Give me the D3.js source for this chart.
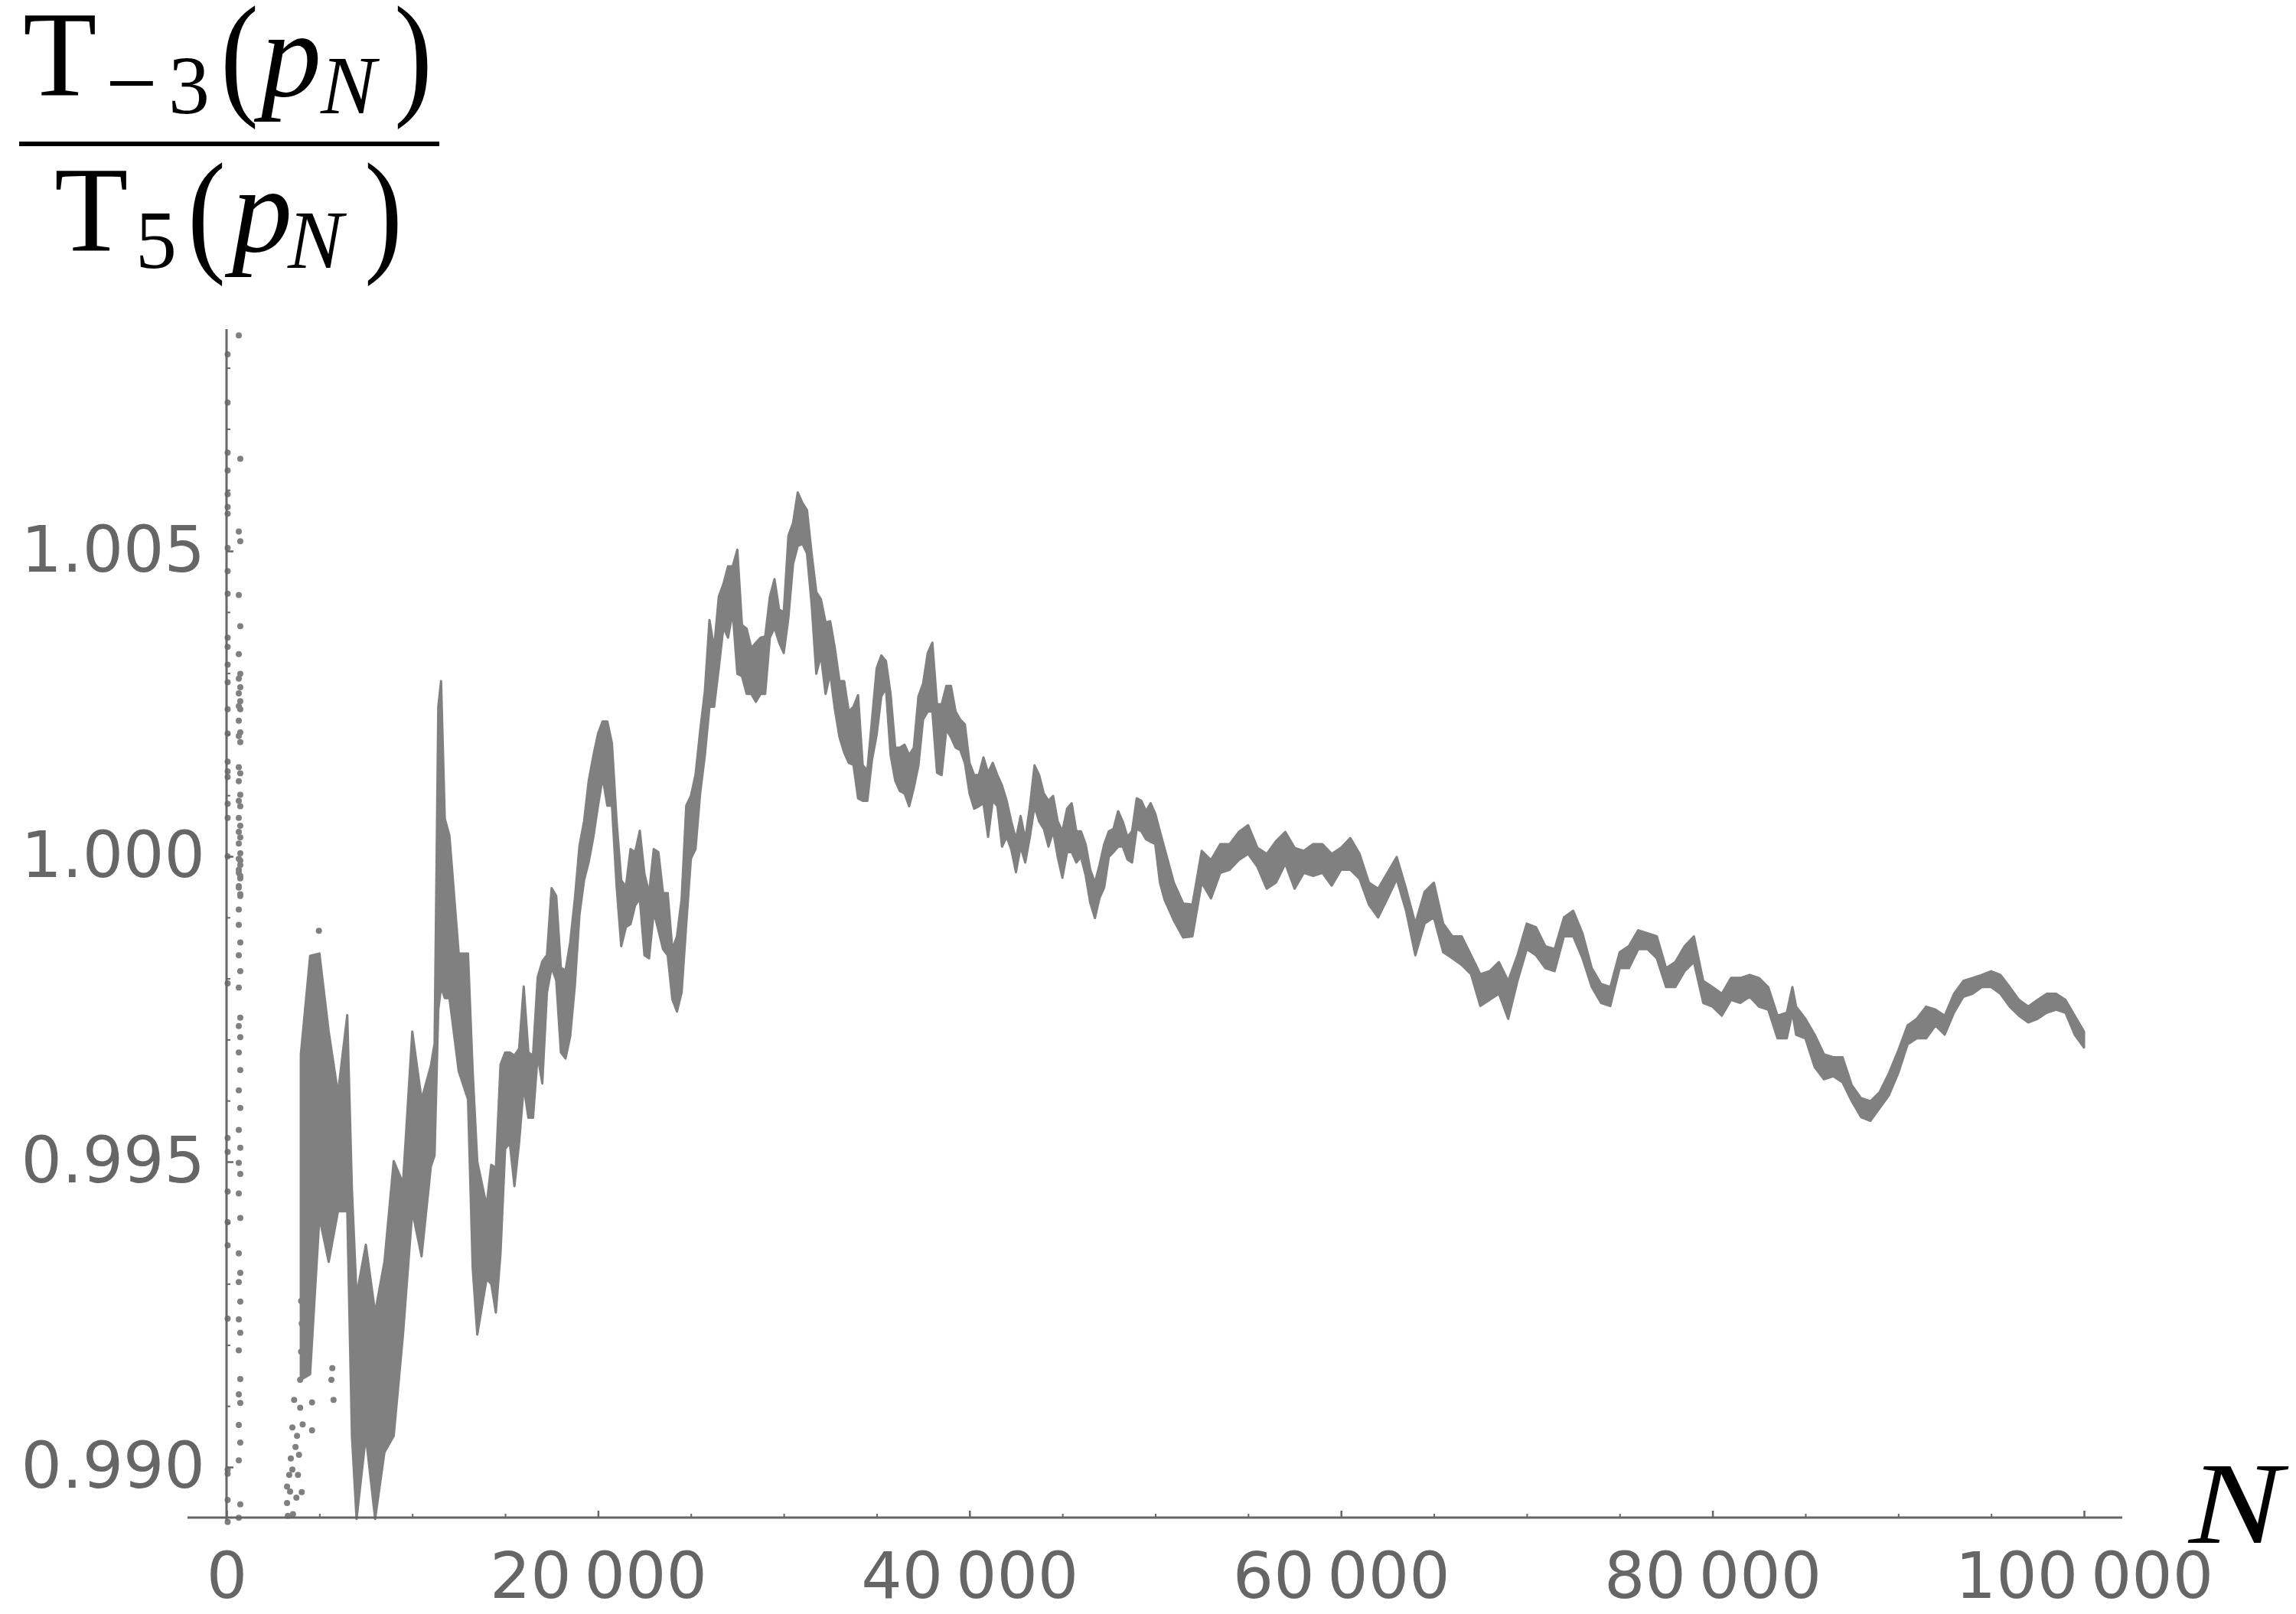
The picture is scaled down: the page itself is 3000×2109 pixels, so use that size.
<!DOCTYPE html>
<html>
<head>
<meta charset="utf-8">
<script src="https://cdn.jsdelivr.net/npm/d3@7"></script>
<style>
  body { margin: 0; background: #fff; }
  .tick text { font-family: "DejaVu Sans", sans-serif; font-size: 84px; fill: #666; }
  .math { font-family: "Liberation Serif", serif; fill: #000; }
</style>
</head>
<body>
<div class="chart"></div>
<script>
const bandN = [
  4000, 4500, 5000, 5500, 6000, 6500, 6750, 7000, 7500, 8000,
  8500, 9000, 9500, 10000, 10500, 11000, 11200, 11400, 11550, 11750,
  12000, 12500, 13000, 13250, 13500, 14000,
  14250, 14500, 14750, 15000, 15250, 15500, 15750, 16000, 16250, 16500,
  16750, 17000, 17250, 17500, 17750, 18000, 18250, 18500, 18750, 19000,
  19250, 19500, 19750, 20000, 20250, 20500, 20750, 21000, 21250, 21500,
  21750, 22000, 22250, 22500, 22750, 23000, 23250, 23500, 23750, 24000,
  24250, 24500, 24750, 25000, 25250, 25500, 25750,
  26000, 26250, 26500, 26750, 27000, 27250, 27500, 27750, 28000, 28250,
  28500, 28750, 29000, 29250, 29500, 29750, 30000, 30250, 30500, 30750,
  31000, 31250, 31500, 31750, 32000, 32250, 32500, 32750, 33000, 33250,
  33500, 33750,
  34000, 34250, 34500, 34750, 35000, 35250, 35500, 35750, 36000, 36250,
  36500, 36750, 37000, 37250, 37500, 37750, 38000, 38250, 38500, 38750,
  39000, 39250, 39500, 39750, 40000, 40250, 40500, 40750, 41000, 41250,
  41500, 41750, 42000, 42250, 42500, 42750, 43000, 43250, 43500, 43750,
  44000, 44250, 44500, 44750, 45000, 45250, 45500, 45750, 46000, 46250,
  46500, 46750, 47000, 47250, 47500, 47750, 48000, 48250, 48500, 48750,
  49000, 49250, 49500, 49750, 50000, 50250,
  50500, 51000, 51500,
  52000, 52500, 53000, 53500, 54000, 54500, 55000, 55500, 56000, 56500,
  57000, 57500, 58000, 58500, 59000, 59500, 60000, 60500, 61000, 61500,
  62000, 62500, 63000, 63500, 64000, 64500, 65000, 65500, 66000, 66500,
  67000, 67500, 68000, 68500, 69000, 69500, 70000, 70500, 71000, 71500,
  72000, 72500, 73000, 73500, 74000, 74500, 75000, 75500, 76000, 76500,
  77000, 77500,
  78000, 78500, 79000, 79500, 80000, 80500, 81000, 81500, 82000, 82500,
  83000, 83500, 84000, 84300, 84500, 85000, 85500, 86000, 86500, 87000,
  87500, 88000, 88500, 89000, 89500, 90000, 90500, 91000, 91500, 92000,
  92500, 93000, 93500, 94000, 94500, 95000, 95500, 96000, 96500, 97000,
  97500, 98000, 98500, 99000, 99500, 100000
];
const bandHi = [
  0.99676, 0.99837, 0.99841, 0.99713, 0.99612, 0.99740, 0.99455, 0.99281, 0.99364, 0.99253,
  0.99336, 0.99501, 0.99465, 0.99713, 0.99602, 0.99657, 0.99694, 1.00245, 1.00287, 1.00062,
  1.00034, 0.99841, 0.99841, 0.99649, 0.99500, 0.99428,
  0.99495, 0.99490, 0.99659, 0.99679, 0.99679, 0.99674, 0.99685, 0.99787, 0.99679, 0.99674,
  0.99802, 0.99828, 0.99838, 0.99948, 0.99935, 0.99818, 0.99813, 0.99859, 0.99930, 1.00017,
  1.00058, 1.00124, 1.00165, 1.00201, 1.00221, 1.00221, 1.00185, 1.00058, 0.99961, 0.99950,
  1.00012, 1.00007, 1.00042, 0.99971, 0.99940, 1.00012, 1.00007, 0.99940, 0.99940, 0.99848,
  0.99869, 0.99930, 1.00083, 1.00099, 1.00134, 1.00206, 1.00270,
  1.00387, 1.00341, 1.00425, 1.00446, 1.00475, 1.00475, 1.00502, 1.00379, 1.00373, 1.00341,
  1.00350, 1.00358, 1.00360, 1.00425, 1.00454, 1.00404, 1.00400, 1.00525, 1.00546, 1.00596,
  1.00579, 1.00567, 1.00496, 1.00433, 1.00421, 1.00383, 1.00385, 1.00341, 1.00287, 1.00287,
  1.00237, 1.00245,
  1.00264, 1.00149, 1.00141, 1.00224, 1.00308, 1.00329, 1.00320, 1.00266, 1.00178, 1.00178,
  1.00183, 1.00166, 1.00178, 1.00262, 1.00283, 1.00333, 1.00350, 1.00249, 1.00249, 1.00279,
  1.00279, 1.00237, 1.00224, 1.00216, 1.00153, 1.00133, 1.00133, 1.00162, 1.00137, 1.00153,
  1.00133, 1.00116, 1.00091, 1.00057, 1.00028, 1.00066, 1.00028, 1.00082, 1.00149, 1.00133,
  1.00103, 1.00091, 1.00099, 1.00057, 1.00041, 1.00078, 1.00087, 1.00041, 1.00041, 1.00020,
  0.99978, 0.99957, 0.99986, 1.00020, 1.00041, 1.00045, 1.00074, 1.00057, 1.00032, 1.00041,
  1.00095, 1.00091, 1.00074, 1.00087, 1.00070, 1.00041,
  1.00013, 0.99957, 0.99923,
  0.99921, 1.00009, 0.99994, 1.00020, 1.00020, 1.00040, 1.00051, 1.00014, 1.00004, 1.00025,
  1.00040, 1.00014, 1.00009, 1.00020, 1.00020, 1.00004, 1.00014, 1.00030, 1.00004, 0.99957,
  0.99947, 0.99973, 0.99999, 0.99947, 0.99890, 0.99942, 0.99957, 0.99890, 0.99869, 0.99869,
  0.99838, 0.99807, 0.99812, 0.99827, 0.99796, 0.99838, 0.99890, 0.99884, 0.99853, 0.99848,
  0.99900, 0.99911, 0.99874, 0.99817, 0.99791, 0.99786, 0.99843, 0.99853, 0.99879, 0.99874,
  0.99869, 0.99817,
  0.99827, 0.99853, 0.99869, 0.99796, 0.99786, 0.99775, 0.99801, 0.99801, 0.99806, 0.99801,
  0.99786, 0.99739, 0.99744, 0.99786, 0.99754, 0.99734, 0.99708, 0.99676, 0.99671, 0.99671,
  0.99625, 0.99604, 0.99599, 0.99614, 0.99645, 0.99682, 0.99723, 0.99734, 0.99754, 0.99749,
  0.99739, 0.99775, 0.99796, 0.99801, 0.99806, 0.99812, 0.99806, 0.99786, 0.99765, 0.99754,
  0.99765, 0.99775, 0.99775, 0.99765, 0.99739, 0.99713
];
const bandLo = [
  0.99143, 0.99152, 0.99409, 0.99336, 0.99419, 0.99419, 0.99051, 0.98915, 0.99051, 0.98915,
  0.99024, 0.99051, 0.99217, 0.99419, 0.99345, 0.99492, 0.99510, 0.99749, 0.99786, 0.99768,
  0.99768, 0.99648, 0.99602, 0.99327, 0.99217, 0.99308,
  0.99300, 0.99253, 0.99350, 0.99521, 0.99531, 0.99460, 0.99531, 0.99623, 0.99572, 0.99572,
  0.99674, 0.99628, 0.99777, 0.99818, 0.99797, 0.99679, 0.99669, 0.99705, 0.99787, 0.99904,
  0.99961, 0.99991, 1.00032, 1.00083, 1.00129, 1.00083, 1.00083, 0.99951, 0.99853, 0.99884,
  0.99889, 0.99920, 0.99930, 0.99838, 0.99833, 0.99909, 0.99879, 0.99848, 0.99838, 0.99766,
  0.99746, 0.99777, 0.99889, 0.99996, 1.00012, 1.00104, 1.00165,
  1.00245, 1.00245, 1.00308, 1.00375, 1.00358, 1.00400, 1.00299, 1.00295, 1.00266, 1.00266,
  1.00253, 1.00266, 1.00266, 1.00358, 1.00375, 1.00350, 1.00333, 1.00391, 1.00479, 1.00508,
  1.00512, 1.00496, 1.00412, 1.00299, 1.00329, 1.00266, 1.00299, 1.00241, 1.00195, 1.00170,
  1.00153, 1.00150,
  1.00095, 1.00091, 1.00091, 1.00158, 1.00199, 1.00262, 1.00275, 1.00166, 1.00124, 1.00107,
  1.00103, 1.00082, 1.00112, 1.00149, 1.00224, 1.00237, 1.00237, 1.00137, 1.00133, 1.00208,
  1.00195, 1.00178, 1.00174, 1.00153, 1.00103, 1.00078, 1.00082, 1.00087, 1.00032, 1.00091,
  1.00082, 1.00016, 1.00032, 1.00011, 0.99974, 1.00016, 0.99990, 1.00032, 1.00082, 1.00057,
  1.00045, 1.00016, 1.00041, 0.99999, 0.99965, 1.00007, 1.00007, 0.99990, 0.99999, 0.99969,
  0.99924, 0.99899, 0.99932, 0.99949, 0.99999, 1.00007, 1.00016, 1.00016, 0.99995, 0.99990,
  1.00045, 1.00041, 1.00028, 1.00024, 1.00020, 0.99957,
  0.99929, 0.99895, 0.99867,
  0.99869, 0.99957, 0.99931, 0.99973, 0.99978, 0.99994, 1.00004, 0.99983, 0.99947, 0.99957,
  0.99988, 0.99947, 0.99973, 0.99968, 0.99973, 0.99952, 0.99978, 0.99978, 0.99963, 0.99921,
  0.99900, 0.99931, 0.99963, 0.99911, 0.99838, 0.99890, 0.99900, 0.99843, 0.99833, 0.99822,
  0.99807, 0.99755, 0.99765, 0.99775, 0.99734, 0.99796, 0.99848, 0.99838, 0.99817, 0.99812,
  0.99869, 0.99869, 0.99833, 0.99786, 0.99760, 0.99755, 0.99817, 0.99817, 0.99848, 0.99848,
  0.99833, 0.99786,
  0.99786, 0.99812, 0.99827, 0.99760, 0.99754, 0.99739, 0.99765, 0.99760, 0.99770, 0.99754,
  0.99749, 0.99702, 0.99702, 0.99744, 0.99708, 0.99702, 0.99655, 0.99635, 0.99640, 0.99630,
  0.99599, 0.99573, 0.99567, 0.99588, 0.99609, 0.99645, 0.99692, 0.99702, 0.99702, 0.99723,
  0.99708, 0.99744, 0.99770, 0.99775, 0.99786, 0.99786, 0.99775, 0.99754, 0.99739, 0.99728,
  0.99734, 0.99744, 0.99749, 0.99744, 0.99708, 0.99687
];

// isolated points at small N (two columns near the axis) and around N = 3000-5700
const dotsColA = [1.00822, 1.00743, 1.00661, 1.00632, 1.00593, 1.00572, 1.00561, 1.00505, 1.00467, 1.00430,
  1.00358, 1.00343, 1.00314, 1.00285, 1.00241, 1.00201, 1.00155, 1.00139, 1.00130, 1.00086,
  1.00063, 1.00000, 0.99792, 0.99539, 0.99516, 0.99451, 0.99401, 0.99363, 0.99243, 0.98996,
  0.98989, 0.98946, 0.98910];
const dotsColB = [1.00853, 1.00651, 1.00532, 1.00516, 1.00428, 1.00377, 1.00331, 1.00299, 1.00291, 1.00277,
  1.00267, 1.00254, 1.00246, 1.00241, 1.00222, 1.00203, 1.00197, 1.00187, 1.00146, 1.00136,
  1.00123, 1.00101, 1.00091, 1.00082, 1.00063, 1.00050, 1.00040, 1.00031, 1.00021, 1.00005,
  0.99996, 0.99986, 0.99973, 0.99964, 0.99951, 0.99938, 0.99913, 0.99993, 0.99978, 0.99968,
  0.99949, 0.99935, 0.99888, 0.99859, 0.99838, 0.99812, 0.99785, 0.99736, 0.99722, 0.99704,
  0.99679, 0.99650, 0.99617, 0.99588, 0.99552, 0.99523, 0.99498, 0.99480, 0.99448, 0.99408,
  0.99350, 0.99318, 0.99303, 0.99271, 0.99242, 0.99220, 0.99191, 0.99144, 0.99119, 0.99105,
  0.99069, 0.99040, 0.99011, 0.98939, 0.98917];
const colAN = 60;
const colBN = [660, 740];
const dotsN = [3258, 3258, 3300, 3375, 3420, 3460, 3544, 3544, 3577, 3640, 3712, 3760, 3796, 3846,
  3900, 3964, 3964, 4014, 4014, 4048, 4048, 4098, 4216, 4603, 4603, 4972, 5645, 5695, 5760];
const dotsV = [0.98968, 0.98941, 0.98920, 0.98987, 0.98960, 0.99014, 0.99065, 0.98996, 0.98923, 0.99110, 0.99033, 0.98950, 0.99051, 0.98987,
  0.99020, 0.99097, 0.99143, 0.99189, 0.99272, 0.99235, 0.98959, 0.99070, 0.99327, 0.99106, 0.99060, 0.99878, 0.99143, 0.99162, 0.99110];

const xMajor = [0, 20000, 40000, 60000, 80000, 100000];
const xLabels = ['0', '20\u2009000', '40\u2009000', '60\u2009000', '80\u2009000', '100\u2009000'];
const xMinor = [5000, 10000, 15000, 25000, 30000, 35000, 45000, 50000, 55000, 65000, 70000, 75000, 85000, 90000, 95000];
const yMajor = [0.990, 0.995, 1.000, 1.005];
const yMinor = [0.991, 0.992, 0.993, 0.994, 0.996, 0.997, 0.998, 0.999, 1.001, 1.002, 1.003, 1.004, 1.006, 1.007, 1.008];

const W = 3000, H = 2109;
const axisColor = '#666';
const markColor = '#808080';

const x = d3.scaleLinear().domain([0, 100000]).range([296, 2723]);
const y = d3.scaleLinear().domain([0.990, 1.005]).range([1917, 720]);
const axisY = 1983;      // x axis sits at the bottom of the plot range
const xLeft = 245, xRight = 2773, yTop = 430;

const svg = d3.select('.chart').append('svg')
  .attr('width', W)
  .attr('height', H);

svg.append('defs').append('clipPath').attr('id', 'plotclip')
  .append('rect').attr('x', xLeft).attr('y', yTop - 10).attr('width', xRight - xLeft).attr('height', axisY + 12 - yTop + 10);

const plot = svg.append('g').attr('clip-path', 'url(#plotclip)');

// dense band
const band = bandN.map((n, i) => ({n: n, hi: bandHi[i], lo: bandLo[i]}));
const area = d3.area()
  .x(d => x(d.n))
  .y0(d => y(d.lo))
  .y1(d => y(d.hi));

plot.append('path')
  .datum(band)
  .attr('d', area)
  .attr('fill', markColor)
  .attr('stroke', markColor)
  .attr('stroke-width', 3)
  .attr('stroke-linejoin', 'round');

// scattered points
const dots = []
  .concat(dotsColA.map(v => ({n: colAN, v: v})))
  .concat(dotsColB.map((v, i) => ({n: colBN[i % 2], v: v})))
  .concat(dotsN.map((n, i) => ({n: n, v: dotsV[i]})));

plot.selectAll('circle')
  .data(dots)
  .enter()
  .append('circle')
  .attr('cx', d => x(d.n))
  .attr('cy', d => y(d.v))
  .attr('r', 4)
  .attr('fill', markColor);

// x axis
const gx = svg.append('g').attr('transform', `translate(0, ${axisY})`);
gx.append('line')
  .attr('x1', xLeft).attr('x2', xRight)
  .attr('stroke', axisColor).attr('stroke-width', 3);
gx.append('g')
  .call(d3.axisBottom(x).tickValues(xMinor).tickSize(-5).tickFormat(''))
  .call(g => g.select('.domain').remove())
  .selectAll('line').attr('stroke', axisColor).attr('stroke-width', 2);
gx.append('g')
  .call(d3.axisBottom(x).tickValues(xMajor).tickSize(-9).tickPadding(45)
    .tickFormat((d, i) => xLabels[i]))
  .call(g => g.select('.domain').remove())
  .call(g => g.selectAll('text').attr('font-size', null).attr('font-family', null))
  .selectAll('line').attr('stroke', axisColor).attr('stroke-width', 2.5);

// y axis
const gy = svg.append('g').attr('transform', `translate(${x(0)}, 0)`);
gy.append('line')
  .attr('y1', yTop).attr('y2', axisY + 4)
  .attr('stroke', axisColor).attr('stroke-width', 3);
gy.append('g')
  .call(d3.axisLeft(y).tickValues(yMinor).tickSize(-5).tickFormat(''))
  .call(g => g.select('.domain').remove())
  .selectAll('line').attr('stroke', axisColor).attr('stroke-width', 2);
gy.append('g')
  .call(d3.axisLeft(y).tickValues(yMajor).tickSize(-9).tickPadding(28)
    .tickFormat(d3.format('.3f')))
  .call(g => g.select('.domain').remove())
  .call(g => g.selectAll('text').attr('font-size', null).attr('font-family', null))
  .selectAll('line').attr('stroke', axisColor).attr('stroke-width', 2.5);

// axis labels: N on the right, the ratio T_{-3}(p_N) / T_5(p_N) on top
svg.append('text')
  .attr('class', 'math')
  .attr('x', 2860).attr('y', 2016)
  .attr('font-size', 152)
  .attr('font-style', 'italic')
  .attr('textLength', 122)
  .attr('lengthAdjust', 'spacingAndGlyphs')
  .text('N');

const frac = svg.append('g');
const glyph = (txt, gx0, gy0, size, italic, sy) => frac.append('text')
  .attr('class', 'math')
  .attr('transform', `translate(${gx0}, ${gy0}) scale(1, ${sy || 1})`)
  .attr('font-size', size)
  .attr('font-style', italic ? 'italic' : 'normal')
  .text(txt);

// numerator
glyph('T', 30, 125, 158, false);
glyph('\u2212', 138, 149, 120, false);
glyph('3', 220, 148, 108, false);
glyph('(', 288, 131, 150, false, 1.18);
glyph('p', 341, 125, 158, true);
glyph('N', 419, 148, 108, true);
glyph(')', 515, 131, 150, false, 1.18);
frac.append('line')
  .attr('x1', 25).attr('x2', 574)
  .attr('y1', 188).attr('y2', 188)
  .attr('stroke', '#000').attr('stroke-width', 6);
// denominator
glyph('T', 71, 328, 158, false);
glyph('5', 177, 350, 108, false);
glyph('(', 245, 336, 150, false, 1.18);
glyph('p', 303, 328, 158, true);
glyph('N', 376, 350, 108, true);
glyph(')', 476, 336, 150, false, 1.18);
</script>
</body>
</html>
